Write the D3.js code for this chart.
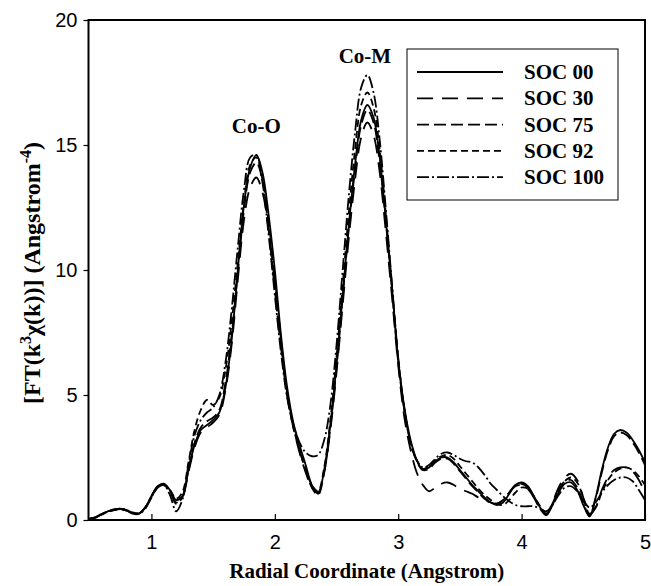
<!DOCTYPE html>
<html>
<head>
<meta charset="utf-8">
<script src="https://cdn.jsdelivr.net/npm/d3@7"></script>
<style>
  body { margin: 0; background: #fff; }
  svg { display: block; }
</style>
</head>
<body>
<script>
// radial coordinate (Angstrom)
var radius = [0.50,0.55,0.60,0.65,0.70,0.75,0.80,0.85,0.90,0.95,
              1.00,1.05,1.10,1.15,1.20,1.25,1.30,1.35,1.40,1.45,
              1.50,1.55,1.60,1.65,1.70,1.75,1.80,1.85,1.90,1.95,
              2.00,2.05,2.10,2.15,2.20,2.25,2.30,2.35,2.40,2.45,
              2.50,2.55,2.60,2.65,2.70,2.75,2.80,2.85,2.90,2.95,
              3.00,3.05,3.10,3.15,3.20,3.25,3.30,3.35,3.40,3.45,
              3.50,3.55,3.60,3.65,3.70,3.75,3.80,3.85,3.90,3.95,
              4.00,4.05,4.10,4.15,4.20,4.25,4.30,4.35,4.40,4.45,
              4.50,4.55,4.60,4.65,4.70,4.75,4.80,4.85,4.90,4.95,5.00];

var soc00 = [0.05,0.10,0.25,0.35,0.42,0.45,0.38,0.25,0.25,0.50,
             0.95,1.35,1.45,1.20,0.80,0.95,2.00,3.00,3.60,3.80,
             4.00,4.30,5.30,7.20,10.0,12.6,14.1,14.6,13.9,12.2,
             10.0,7.40,5.30,3.90,3.00,2.20,1.40,1.05,2.00,3.80,
             6.20,9.00,11.8,14.2,16.0,16.6,16.1,14.5,12.0,9.30,
             6.40,4.50,3.20,2.40,2.00,2.10,2.35,2.50,2.50,2.30,
             2.00,1.70,1.40,1.15,0.90,0.70,0.60,0.70,1.05,1.40,
             1.50,1.35,0.95,0.50,0.20,0.60,1.10,1.45,1.50,1.20,
             0.60,0.15,0.90,2.00,2.90,3.45,3.60,3.50,3.20,2.80,2.30];

var soc30 = [0.05,0.10,0.24,0.34,0.41,0.44,0.38,0.26,0.26,0.50,
             0.95,1.33,1.43,1.18,0.70,0.90,1.90,2.90,3.50,3.70,
             3.90,4.20,5.20,7.00,9.60,12.0,13.3,13.7,13.1,11.6,
             9.50,7.10,5.00,3.70,2.70,1.90,1.30,1.10,1.90,3.60,
             5.90,8.60,11.3,13.6,15.3,15.9,15.4,13.9,11.5,8.90,
             6.20,4.10,2.80,1.90,1.40,1.15,1.30,1.45,1.50,1.40,
             1.25,1.15,1.05,0.90,0.80,0.70,0.65,0.80,1.10,1.35,
             1.40,1.25,0.90,0.50,0.25,0.70,1.30,1.70,1.85,1.60,
             0.90,0.20,0.50,1.20,1.70,2.00,2.10,2.10,1.95,1.60,1.10];

var soc75 = [0.05,0.12,0.25,0.35,0.40,0.43,0.37,0.27,0.27,0.50,
             0.95,1.30,1.40,1.15,0.65,0.90,2.00,3.10,3.70,3.95,
             4.10,4.40,5.50,7.40,9.90,12.4,13.9,14.3,13.6,11.9,
             9.70,7.20,5.10,3.80,2.80,2.00,1.30,1.00,1.90,3.70,
             6.10,8.90,11.7,14.0,15.8,16.4,15.9,14.3,11.9,9.20,
             6.30,4.40,3.10,2.35,2.00,2.05,2.30,2.45,2.45,2.25,
             1.95,1.65,1.35,1.10,0.85,0.70,0.65,0.80,1.10,1.40,
             1.45,1.30,0.90,0.45,0.20,0.65,1.20,1.55,1.60,1.30,
             0.70,0.15,0.85,1.90,2.80,3.35,3.50,3.40,3.10,2.70,2.20];

var soc92 = [0.03,0.10,0.22,0.33,0.40,0.44,0.40,0.30,0.28,0.50,
             0.90,1.30,1.40,1.20,0.85,1.10,2.30,3.60,4.40,4.80,
             4.60,4.90,6.00,7.90,10.3,12.7,14.2,14.5,13.6,11.6,
             9.20,6.90,5.00,3.70,2.80,2.00,1.40,1.15,2.10,4.00,
             6.50,9.40,12.3,14.8,16.6,17.1,16.5,14.8,12.2,9.30,
             6.50,4.40,3.10,2.40,2.05,2.15,2.40,2.55,2.60,2.45,
             2.15,1.85,1.55,1.25,1.00,0.80,0.65,0.60,0.80,1.10,
             1.30,1.25,0.95,0.55,0.25,0.60,1.15,1.55,1.70,1.50,
             0.90,0.25,0.50,1.10,1.60,1.90,2.05,2.10,2.00,1.75,1.40];

var soc100 = [0.05,0.12,0.25,0.35,0.42,0.45,0.40,0.28,0.25,0.45,
              0.90,1.30,1.40,1.00,0.35,0.80,2.20,3.40,4.00,4.30,
              4.50,5.00,6.30,8.40,10.9,13.2,14.5,14.6,13.5,11.4,
              9.00,6.70,4.90,3.80,3.10,2.70,2.55,2.60,3.20,4.60,
              7.00,10.0,13.0,15.5,17.3,17.8,17.1,15.2,12.4,9.40,
              6.50,4.40,3.10,2.40,2.10,2.20,2.45,2.65,2.70,2.60,
              2.45,2.35,2.30,2.10,1.80,1.45,1.20,0.95,0.75,0.60,
              0.55,0.55,0.55,0.45,0.35,0.60,1.00,1.30,1.35,1.15,
              0.80,0.50,0.70,1.10,1.40,1.60,1.70,1.70,1.55,1.20,0.80];

var seriesNames = ["SOC 00", "SOC 30", "SOC 75", "SOC 92", "SOC 100"];
var seriesValues = [soc00, soc30, soc75, soc92, soc100];
var dashes = ["none", "16,9", "12,5", "7,4", "12,3,2,3"];

var xTicks = [1, 2, 3, 4, 5];
var yTicks = [0, 5, 10, 15, 20];

var width = 651, height = 586;
var margin = {top: 20, right: 6, bottom: 66, left: 88.5};
var chartWidth = width - margin.left - margin.right;
var chartHeight = height - margin.top - margin.bottom;

var xScale = d3.scaleLinear()
    .domain([0.49, 5])
    .range([0, chartWidth]);

var yScale = d3.scaleLinear()
    .domain([0, 20])
    .range([chartHeight, 0]);

var canvas = d3.select('body').append('svg')
    .attr('width', width)
    .attr('height', height);

var g = canvas.append('g')
    .attr('transform', 'translate(' + margin.left + ',' + margin.top + ')');

var serif = '"Liberation Serif", "Times New Roman", serif';
var sans = '"Liberation Sans", Arial, sans-serif';

// axes
var xAxis = d3.axisBottom(xScale).tickValues(xTicks).tickSize(-6).tickPadding(15).tickFormat(d3.format('d'));
var yAxis = d3.axisLeft(yScale).tickValues(yTicks).tickSize(5).tickPadding(6).tickFormat(d3.format('d'));

var xg = g.append('g').attr('transform', 'translate(0,' + chartHeight + ')').call(xAxis);
var yg = g.append('g').call(yAxis);

[xg, yg].forEach(function(a) {
    a.select('.domain').remove();
    a.selectAll('line').attr('stroke', '#000').attr('stroke-width', 1.2);
    a.selectAll('text')
        .attr('fill', '#000')
        .style('font-family', sans)
        .style('font-size', '20px');
});

// the curves
var line = d3.line()
    .x(function(d) { return xScale(d[0]); })
    .y(function(d) { return yScale(d[1]); })
    .curve(d3.curveCatmullRom.alpha(0.5));

seriesValues.forEach(function(vals, i) {
    var pts = radius.map(function(r, j) { return [r, vals[j]]; });
    g.append('path')
        .datum(pts)
        .attr('fill', 'none')
        .attr('stroke', '#000')
        .attr('stroke-width', 1.8)
        .attr('stroke-dasharray', dashes[i])
        .attr('d', line);
});

// frame
g.append('rect')
    .attr('x', 0).attr('y', 0)
    .attr('width', chartWidth).attr('height', chartHeight)
    .attr('fill', 'none')
    .attr('stroke', '#000')
    .attr('stroke-width', 2);

// peak labels
g.append('text')
    .attr('x', xScale(1.85)).attr('y', yScale(15.5))
    .attr('text-anchor', 'middle')
    .style('font-family', serif).style('font-weight', 'bold').style('font-size', '21px')
    .text('Co-O');

g.append('text')
    .attr('x', xScale(2.73)).attr('y', yScale(18.3))
    .attr('text-anchor', 'middle')
    .style('font-family', serif).style('font-weight', 'bold').style('font-size', '21px')
    .text('Co-M');

// legend
var legend = g.append('g')
    .attr('transform', 'translate(' + (407 - margin.left) + ',' + (49 - margin.top) + ')');

legend.append('rect')
    .attr('width', 211).attr('height', 151)
    .attr('fill', '#fff')
    .attr('stroke', '#000')
    .attr('stroke-width', 1);

seriesNames.forEach(function(name, i) {
    var yy = 23 + i * 26.3;
    legend.append('line')
        .attr('x1', 10).attr('x2', 96)
        .attr('y1', yy).attr('y2', yy)
        .attr('stroke', '#000')
        .attr('stroke-width', 1.8)
        .attr('stroke-dasharray', dashes[i]);
    legend.append('text')
        .attr('x', 117).attr('y', yy + 7)
        .style('font-family', serif).style('font-weight', 'bold').style('font-size', '21px')
        .text(name);
});

// axis titles
canvas.append('text')
    .attr('x', margin.left + chartWidth / 2)
    .attr('y', 578)
    .attr('text-anchor', 'middle')
    .style('font-family', serif).style('font-weight', 'bold').style('font-size', '21px')
    .text('Radial Coordinate (Angstrom)');

var yTitle = canvas.append('text')
    .attr('transform', 'translate(40,' + (margin.top + chartHeight / 2 + 3) + ') rotate(-90)')
    .attr('text-anchor', 'middle')
    .style('font-family', serif).style('font-weight', 'bold').style('font-size', '24px');
yTitle.append('tspan').text('[FT(k');
yTitle.append('tspan').attr('dy', -9).style('font-size', '16px').text('3');
yTitle.append('tspan').attr('dy', 9).text('\u03c7(k))] (Angstrom');
yTitle.append('tspan').attr('dy', -9).style('font-size', '16px').text('-4');
yTitle.append('tspan').attr('dy', 9).text(')');
</script>
</body>
</html>
